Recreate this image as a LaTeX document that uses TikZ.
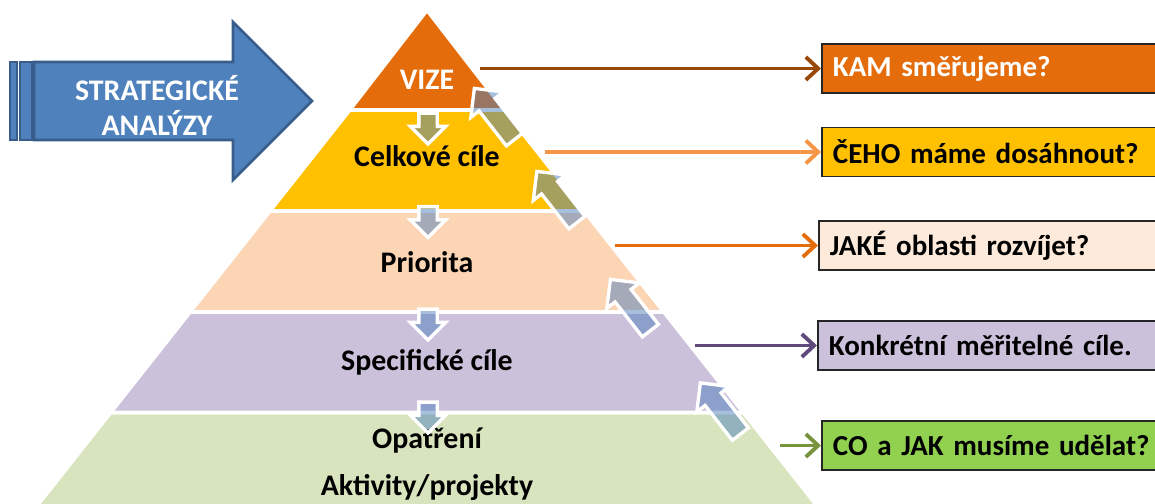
\documentclass[tikz,border=0pt]{standalone}
\usepackage{fontspec}
\setmainfont{Carlito}
\usetikzlibrary{shapes.arrows,arrows.meta,positioning}
\definecolor{vizeor}{HTML}{E46C0A}
\definecolor{celkyel}{HTML}{FFC000}
\definecolor{priopeach}{HTML}{FCD5B5}
\definecolor{speclil}{HTML}{CCC1DA}
\definecolor{opatgrn}{HTML}{D7E4BD}
\definecolor{arrblue}{HTML}{4F81BD}
\definecolor{arrdark}{HTML}{385D8A}
\definecolor{lnbrown}{HTML}{984807}
\definecolor{lnorange}{HTML}{F79646}
\definecolor{lnpurple}{HTML}{604A7B}
\definecolor{lngreen}{HTML}{77933C}
\definecolor{boxpeach}{HTML}{FDEADA}
\definecolor{boxgreen}{HTML}{92D050}
\tikzstyle{band} = [draw=white, line width=2.2pt]
\tikzstyle{level} = [font=\fontsize{17}{20}\selectfont\bfseries, inner sep=0pt, anchor=base]
\tikzstyle{question} = [rectangle, anchor=west, draw=black!85, line width=1.1pt, minimum height=0.98cm, text width=6.5cm, inner xsep=0.22cm, align=left, font=\fontsize{16.5}{19}\selectfont\bfseries]
\tikzstyle{flow} = [single arrow, fill=arrblue, fill opacity=0.5, draw=white, line width=1.9pt, inner xsep=0pt, inner ysep=0.15cm, single arrow head extend=0.17cm, minimum height=0.62cm, minimum width=0pt, outer sep=0pt]
\tikzstyle{climb} = [flow, inner ysep=0.17cm, single arrow head extend=0.21cm, minimum height=1.3cm]
\tikzstyle{link} = [line width=2.2pt, -{Straight Barb[length=7pt,width=13pt]}]
\tikzstyle{strategy} = [fill=arrblue, draw=arrdark, line width=1.5pt]

\begin{document}
\begin{tikzpicture}
\useasboundingbox (0,0) rectangle (23.1,-10.08);
\clip (0,0) rectangle (23.1,-10.08);

% strategic analyses arrow
\filldraw[strategy] (0.68,-1.24) -- (4.66,-1.24) -- (4.66,-0.44) -- (6.24,-2.02) -- (4.66,-3.6) -- (4.66,-2.8) -- (0.68,-2.8) -- cycle;
\filldraw[strategy] (0.2,-1.24) rectangle (0.34,-2.8);
\filldraw[strategy] (0.4,-1.24) rectangle (0.64,-2.8);
\node[font=\fontsize{17}{20}\selectfont\bfseries, text=white, align=center] (strat) at (3.14,-2.11) {STRATEGICKÉ\\ANALÝZY};

% pyramid
\filldraw[band, fill=opatgrn] (2.212,-8.25) -- (14.868,-8.25) -- (16.566,-10.4) -- (0.514,-10.4) -- cycle;
\filldraw[band, fill=speclil] (3.80,-6.24) -- (13.28,-6.24) -- (14.868,-8.25) -- (2.212,-8.25) -- cycle;
\filldraw[band, fill=priopeach] (5.396,-4.22) -- (11.684,-4.22) -- (13.28,-6.24) -- (3.80,-6.24) -- cycle;
\filldraw[band, fill=celkyel] (6.992,-2.2) -- (10.088,-2.2) -- (11.684,-4.22) -- (5.396,-4.22) -- cycle;
\filldraw[band, fill=vizeor] (8.54,-0.2) -- (10.088,-2.2) -- (6.992,-2.2) -- cycle;

\node[level, text=white] (vize) at (8.54,-1.8) {VIZE};
\node[level] (celk) at (8.54,-3.34) {Celkové cíle};
\node[level] (prio) at (8.54,-5.44) {Priorita};
\node[level] (spec) at (8.54,-7.4) {Specifické cíle};
\node[level] (opat) at (8.54,-8.96) {Opatření};
\node[level] (akt) at (8.54,-9.9) {Aktivity/projekty};

% arrows down and up
\node[flow, rotate=-90] (d1) at (8.56,-2.48) {};
\node[flow, rotate=-90] (d2) at (8.56,-4.35) {};
\node[flow, rotate=-90] (d3) at (8.56,-6.4) {};
\node[flow, rotate=-90] (d4) at (8.56,-8.26) {};
\node[climb, rotate=128] (u1) at (9.95,-2.36) {};
\node[climb, rotate=128] (u2) at (11.2,-4.02) {};
\node[climb, rotate=128] (u3) at (12.67,-6.18) {};
\node[climb, rotate=128] (u4) at (14.47,-8.25) {};

% questions
\node[question, fill=vizeor, text=white] (kam) at (16.42,-1.37) {KAM směřujeme?};
\node[question, fill=celkyel] (ceho) at (16.42,-3.04) {ČEHO máme dosáhnout?};
\node[question, fill=boxpeach] (jake) at (16.36,-4.91) {JAKÉ oblasti rozvíjet?};
\node[question, fill=speclil] (konk) at (16.34,-6.91) {Konkrétní měřitelné cíle.};
\node[question, fill=boxgreen] (coajak) at (16.42,-8.91) {CO a JAK musíme udělat?};

\coordinate (e1) at (9.6,-1.37);
\coordinate (e2) at (10.9,-3.04);
\coordinate (e3) at (12.3,-4.91);
\coordinate (e4) at (13.9,-6.91);
\coordinate (e5) at (15.6,-8.91);
\draw[link, lnbrown] (e1) -- (kam.west);
\draw[link, lnorange] (e2) -- (ceho.west);
\draw[link, vizeor] (e3) -- (jake.west);
\draw[link, lnpurple] (e4) -- (konk.west);
\draw[link, lngreen] (e5) -- (coajak.west);
\end{tikzpicture}
\end{document}
